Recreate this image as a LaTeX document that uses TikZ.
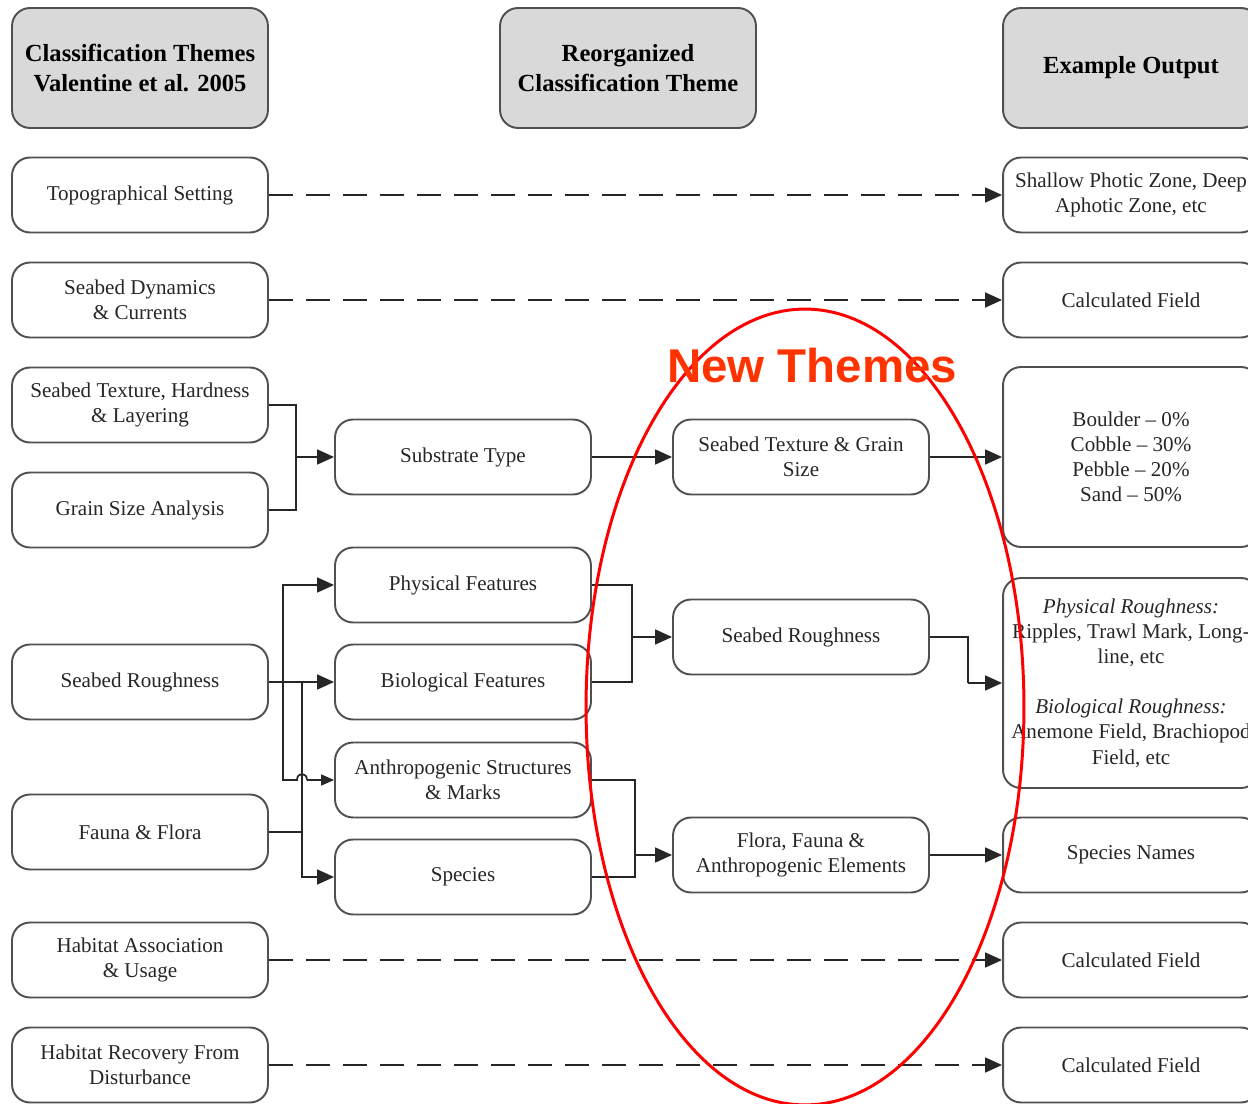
\documentclass[tikz,border=0pt]{standalone}
\usepackage{fontspec}
\setmainfont{Liberation Serif}
\newfontfamily\themefont{Liberation Sans}
\usetikzlibrary{arrows.meta}
\usetikzlibrary{positioning}
\definecolor{boxline}{HTML}{505050}
\definecolor{headfill}{HTML}{D9D9D9}
\definecolor{themered}{HTML}{FF3300}

\tikzset{
  theme/.style={draw=boxline, line width=1.1pt, rounded corners=0.36cm, minimum width=5.12cm,
    minimum height=1.5cm, align=center, text=black!85, font=\fontsize{12}{14.3}\selectfont},
  header/.style={theme, fill=headfill, minimum height=2.4cm, text=black,
    font=\fontsize{14}{17}\selectfont\bfseries},
  line/.style={draw=black!85, line width=1pt},
  link/.style={line, -{Triangle[length=0.34cm,width=0.3cm]}},
  dashlink/.style={link, dash pattern=on 0.48cm off 0.26cm},
}

\begin{document}
\begin{tikzpicture}[x=0.02cm, y=-0.02cm]
    \useasboundingbox (0,0) rectangle (1248,1104);
    \clip (0,0) rectangle (1248,1104);

    % Headers
    \node[header] (h-old) at (140,68) {Classification Themes\\Valentine et al. 2005};
    \node[header] (h-new) at (628,68) {Reorganized\\Classification Theme};
    \node[header] (h-out) at (1131,68) {Example Output};

    % Valentine themes
    \node[theme] (t-topo)  at (140,195)  {Topographical Setting};
    \node[theme] (t-dyn)   at (140,300)  {Seabed Dynamics\\\& Currents};
    \node[theme] (t-tex)   at (140,405)  {Seabed Texture, Hardness\\\& Layering};
    \node[theme] (t-grain) at (140,510)  {Grain Size Analysis};
    \node[theme] (t-rough) at (140,682)  {Seabed Roughness};
    \node[theme] (t-fauna) at (140,832)  {Fauna \& Flora};
    \node[theme] (t-assoc) at (140,960)  {Habitat Association\\\& Usage};
    \node[theme] (t-recov) at (140,1065) {Habitat Recovery From\\Disturbance};

    % Reorganized themes
    \node[theme] (r-substrate) at (463,457) {Substrate Type};
    \node[theme] (r-phys)      at (463,585) {Physical Features};
    \node[theme] (r-bio)       at (463,682) {Biological Features};
    \node[theme] (r-anthro)    at (463,780) {Anthropogenic Structures\\\& Marks};
    \node[theme] (r-species)   at (463,877) {Species};

    % New themes
    \node[theme] (n-texture) at (801,457) {Seabed Texture \& Grain\\Size};
    \node[theme] (n-rough)   at (801,637) {Seabed Roughness};
    \node[theme] (n-flora)   at (801,855) {Flora, Fauna \&\\Anthropogenic Elements};

    % Example output
    \node[theme] (o-zone)    at (1131,195)  {Shallow Photic Zone, Deep\\Aphotic Zone, etc};
    \node[theme] (o-calc1)   at (1131,300)  {Calculated Field};
    \node[theme, minimum height=3.6cm] (o-grain) at (1131,457)
        {Boulder -- 0\%\\Cobble -- 30\%\\Pebble -- 20\%\\Sand -- 50\%};
    \node[theme, minimum height=4.2cm] (o-rough) at (1131,683)
        {\textit{Physical Roughness:}\\Ripples, Trawl Mark, Long-\\line, etc\\[14.3pt]
         \textit{Biological Roughness:}\\Anemone Field, Brachiopod\\Field, etc};
    \node[theme] (o-species) at (1131,855)  {Species Names};
    \node[theme] (o-calc2)   at (1131,960)  {Calculated Field};
    \node[theme] (o-calc3)   at (1131,1065) {Calculated Field};

    % Direct (dashed) links
    \draw[dashlink] (t-topo) -- (o-zone);
    \draw[dashlink] (t-dyn) -- (o-calc1);
    \draw[dashlink] (t-assoc) -- (o-calc2);
    \draw[dashlink] (t-recov) -- (o-calc3);

    % Junction points
    \coordinate (j-sub)   at (296,457);
    \coordinate (j-phys)  at (283,682);
    \coordinate (j-bio)   at (302,682);
    \coordinate (j-fauna) at (302,832);
    \coordinate (hop-a)   at (297,780);
    \coordinate (hop-b)   at (307,780);
    \coordinate (j-rough) at (632,637);
    \coordinate (j-flora) at (635,855);
    \coordinate (j-out)   at (968,683);

    % Substrate
    \draw[line] (t-tex.east) -| (j-sub) |- (t-grain.east);
    \draw[link] (j-sub) -- (r-substrate);
    \draw[link] (r-substrate) -- (n-texture);
    \draw[link] (n-texture) -- (o-grain);

    % Roughness and biota
    \draw[link] (t-rough) -- (r-bio);
    \draw[link] (j-phys) |- (r-phys);
    \draw[line] (j-phys) |- (hop-a) .. controls (297,772) and (307,772) .. (hop-b);
    \draw[link, -{Triangle[length=0.26cm,width=0.22cm]}] (hop-b) -- (r-anthro.west |- hop-b);
    \draw[line] (t-fauna.east) -- (j-fauna);
    \draw[line] (j-bio) -- (j-fauna);
    \draw[link] (j-fauna) |- (r-species);

    \draw[line] (r-phys.east) -| (j-rough) |- (r-bio.east);
    \draw[link] (j-rough) -- (n-rough);
    \draw[line] (r-anthro.east) -| (j-flora) |- (r-species.east);
    \draw[link] (j-flora) -- (n-flora);

    \draw[line] (n-rough.east) -| (j-out);
    \draw[link] (j-out) -- (o-rough);
    \draw[link] (n-flora) -- (o-species);

    % New themes ring
    \draw[red, line width=1.7pt] (805,707) ellipse [x radius=4.38cm, y radius=7.96cm];
    \node[text=themered, font=\themefont\bfseries\fontsize{27}{31}\selectfont] (newlabel) at (812,366) {New Themes};
\end{tikzpicture}
\end{document}
